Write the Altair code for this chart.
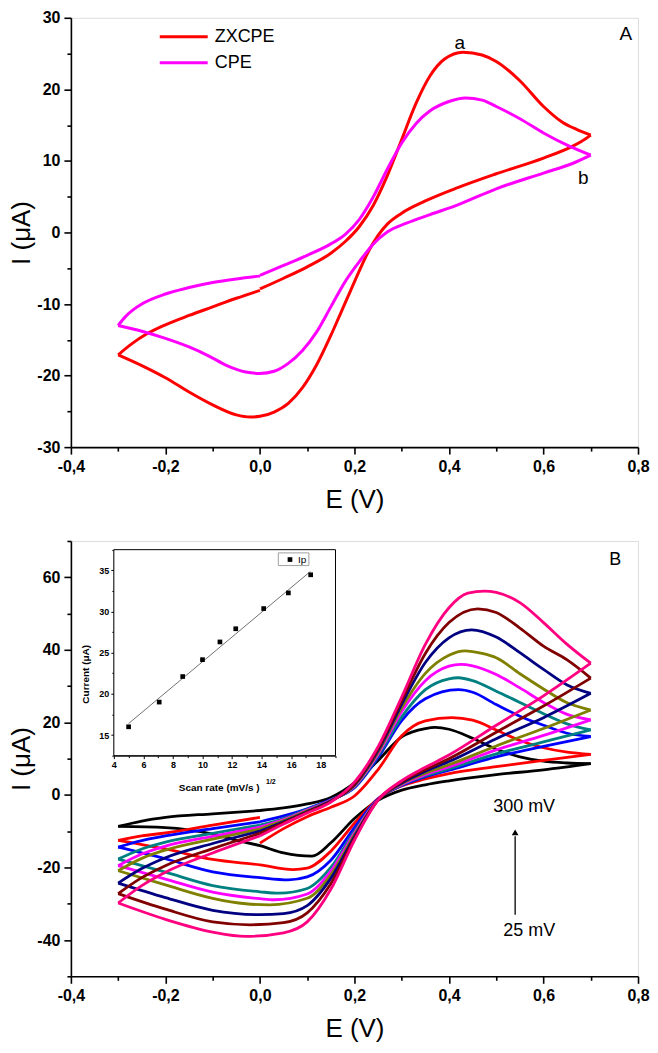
import altair as alt
import pandas as pd

FONT = "Liberation Sans"
MINUS = "\u2212"

# ---------------- Panel A : ZXCPE vs CPE ----------------
A_names = ["ZXCPE", "CPE"]
A_colors = ["#ff0000", "#ff00ff"]

ZX_fwd_E = [0.0, 0.05, 0.1, 0.15, 0.18, 0.21, 0.24, 0.27, 0.30, 0.33, 0.36, 0.39, 0.43, 0.47, 0.50, 0.55, 0.60, 0.64, 0.67, 0.70]
ZX_fwd_I = [-7.9, -6.4, -4.8, -2.9, -1.3, 0.8, 3.8, 8.0, 13.0, 18.0, 21.9, 24.2, 25.2, 24.8, 23.9, 21.2, 17.6, 15.4, 14.4, 13.6]
ZX_rev_E = [0.70, 0.68, 0.66, 0.60, 0.50, 0.42, 0.35, 0.30, 0.27, 0.25, 0.23, 0.21, 0.19, 0.17, 0.15, 0.12, 0.09, 0.06, 0.03, 0.0, -0.02, -0.05, -0.1, -0.15, -0.2, -0.25, -0.3]
ZX_rev_I = [13.6, 12.7, 12.0, 10.4, 8.2, 6.3, 4.4, 2.7, 1.2, -0.4, -2.6, -5.4, -8.4, -11.4, -14.4, -18.5, -21.7, -23.9, -25.1, -25.7, -25.8, -25.5, -24.1, -22.3, -20.3, -18.6, -17.1]
ZX_ret_E = [-0.3, -0.27, -0.24, -0.2, -0.15, -0.1, -0.05, 0.0]
ZX_ret_I = [-17.1, -15.5, -14.2, -12.9, -11.6, -10.4, -9.2, -8.1]

CPE_fwd_E = [0.0, 0.05, 0.1, 0.15, 0.18, 0.21, 0.24, 0.27, 0.30, 0.33, 0.36, 0.40, 0.435, 0.47, 0.50, 0.55, 0.60, 0.65, 0.70]
CPE_fwd_I = [-6.0, -4.6, -3.2, -1.6, -0.3, 1.8, 5.0, 8.9, 12.5, 15.2, 17.0, 18.3, 18.8, 18.5, 17.6, 15.9, 13.9, 12.2, 10.8]
CPE_rev_E = [0.70, 0.66, 0.60, 0.50, 0.42, 0.36, 0.31, 0.27, 0.24, 0.21, 0.18, 0.15, 0.12, 0.09, 0.06, 0.03, 0.0, -0.03, -0.07, -0.11, -0.15, -0.2, -0.25, -0.3]
CPE_rev_I = [10.8, 9.6, 8.3, 6.1, 3.9, 2.5, 1.3, 0.1, -1.6, -4.1, -6.9, -10.4, -13.9, -16.5, -18.3, -19.4, -19.7, -19.5, -18.6, -17.2, -16.0, -14.8, -13.8, -13.0]
CPE_ret_E = [-0.3, -0.285, -0.27, -0.25, -0.2, -0.15, -0.1, -0.05, 0.0]
CPE_ret_I = [-13.0, -11.8, -10.9, -10.0, -8.6, -7.7, -7.0, -6.5, -6.1]

A_labels = ["a", "b", "A"]
A_label_E = [0.423, 0.684, 0.774]
A_label_I = [26.5, 7.6, 27.8]

# ---------------- Panel B : scan rates ----------------
rates = [25, 50, 75, 100, 125, 150, 200, 250, 300]
rate_colors = ["#000000", "#ff0000", "#0000ff", "#008080", "#ff00ff", "#808000", "#000080", "#800000", "#ff0080"]

fwd_E = {
    25: [0, .05, .1, .15, .2, .25, .3, .35, .371, .4, .45, .5, .55, .6, .65, .7],
    50: [0, .05, .1, .15, .2, .25, .3, .35, .406, .45, .5, .55, .6, .65, .7],
    75: [0, .05, .1, .15, .2, .25, .3, .35, .42, .45, .5, .55, .6, .65, .7],
    100: [0, .05, .1, .15, .2, .25, .3, .35, .4, .42, .45, .5, .55, .6, .65, .7],
    125: [0, .05, .1, .15, .2, .25, .3, .35, .4, .425, .45, .5, .55, .6, .65, .7],
    150: [0, .05, .1, .15, .2, .25, .3, .35, .4, .434, .47, .5, .55, .6, .65, .7],
    200: [0, .05, .1, .15, .2, .25, .3, .35, .4, .448, .5, .55, .6, .65, .7],
    250: [0, .05, .1, .15, .2, .25, .3, .35, .4, .461, .5, .55, .6, .65, .7],
    300: [0, .05, .1, .15, .2, .25, .3, .35, .4, .44, .475, .5, .55, .6, .65, .7],
}
fwd_I = {
    25: [-4.3, -3.6, -2.5, -0.7, 3.3, 9.5, 16.0, 18.3, 18.6, 18.1, 15.6, 12.6, 10.5, 9.3, 8.8, 8.6],
    50: [-13.3, -9.3, -6.0, -3.4, -0.3, 7.0, 16.3, 20.4, 21.3, 20.6, 17.9, 15.0, 13.0, 11.8, 11.2],
    75: [-7.4, -5.8, -3.8, -1.3, 2.0, 10.3, 20.5, 26.5, 29.0, 28.3, 24.9, 21.7, 19.2, 17.0, 16.1],
    100: [-8.3, -6.5, -4.0, -1.4, 2.2, 10.8, 21.5, 29.0, 32.0, 32.3, 31.5, 28.6, 25.5, 22.4, 19.6, 17.9],
    125: [-8.9, -6.8, -4.2, -1.5, 2.4, 11.3, 23.0, 31.5, 35.5, 36.0, 35.6, 33.2, 29.5, 25.5, 22.2, 20.7],
    150: [-9.4, -7.1, -4.4, -1.6, 2.6, 11.8, 24.0, 33.5, 38.5, 39.7, 39.0, 37.8, 33.4, 29.2, 25.4, 23.4],
    200: [-10.0, -7.4, -4.6, -1.7, 2.8, 12.3, 25.0, 36.5, 43.3, 45.5, 43.5, 39.2, 34.6, 30.3, 28.0],
    250: [-10.6, -7.7, -4.8, -1.8, 3.0, 12.8, 26.0, 39.0, 47.5, 51.3, 50.3, 46.0, 41.0, 37.2, 32.2],
    300: [-11.3, -8.0, -5.0, -2.0, 3.5, 13.3, 27.0, 41.5, 51.6, 55.6, 56.2, 55.8, 53.0, 47.5, 41.5, 36.3],
}
rev_E = {
    25: [.7, .6, .5, .4, .35, .3, .25, .2, .15, .11, .05, 0, -.05, -.1, -.2, -.3],
    50: [.7, .6, .5, .4, .35, .3, .25, .2, .15, .1, .07, 0, -.1, -.2, -.3],
    75: [.7, .6, .5, .4, .35, .3, .25, .2, .15, .1, .06, 0, -.1, -.2, -.3],
    100: [.7, .6, .5, .4, .35, .3, .25, .2, .15, .1, .04, 0, -.1, -.2, -.3],
    125: [.7, .6, .5, .4, .35, .3, .25, .2, .15, .1, .03, 0, -.1, -.2, -.3],
    150: [.7, .6, .5, .4, .35, .3, .25, .2, .15, .1, .02, -.03, -.1, -.2, -.3],
    200: [.7, .6, .5, .4, .35, .3, .25, .2, .15, .1, .05, 0, -.1, -.2, -.3],
    250: [.7, .6, .5, .4, .35, .3, .25, .2, .15, .1, .05, -.02, -.1, -.2, -.3],
    300: [.7, .6, .5, .4, .35, .3, .25, .2, .15, .1, .05, -.03, -.1, -.2, -.3],
}
rev_I = {
    25: [8.6, 6.9, 5.6, 3.9, 2.8, 1.3, -1.5, -6.5, -13.2, -16.9, -16.0, -14.0, -12.5, -10.8, -9.0, -8.7],
    50: [11.2, 9.5, 7.8, 5.9, 4.4, 2.5, -1.0, -7.8, -15.5, -20.2, -20.6, -19.3, -17.8, -14.9, -12.5],
    75: [16.1, 13.4, 10.5, 6.8, 5.0, 2.6, -1.1, -9.0, -18.0, -22.6, -23.4, -22.8, -21.2, -17.6, -14.4],
    100: [17.9, 14.6, 11.3, 7.2, 5.3, 2.8, -1.2, -10.0, -20.0, -25.8, -27.1, -26.7, -25.0, -21.3, -17.7],
    125: [20.7, 16.4, 12.4, 7.7, 5.6, 2.9, -1.2, -10.5, -21.0, -27.3, -28.9, -28.6, -26.8, -23.2, -19.5],
    150: [23.4, 18.3, 13.5, 8.3, 6.0, 3.1, -1.3, -11.0, -22.0, -28.5, -30.3, -30.0, -28.5, -24.8, -20.9],
    200: [28.0, 21.3, 15.5, 9.2, 6.5, 3.3, -1.3, -11.5, -23.0, -30.5, -32.7, -33.0, -31.8, -28.3, -24.3],
    250: [32.2, 24.5, 17.3, 10.0, 7.0, 3.6, -1.4, -12.0, -24.5, -32.5, -35.2, -35.8, -35.0, -31.5, -27.2],
    300: [36.3, 27.3, 19.2, 11.0, 7.6, 3.9, -1.4, -12.5, -26.0, -35.0, -38.0, -39.0, -37.8, -34.3, -29.8],
}
ret_E = [-0.3, -0.25, -0.2, -0.1, 0.0]
ret_I = {
    25: [-8.7, -7.2, -6.2, -5.2, -4.3],
    50: [-12.5, -11.3, -10.5, -8.3, -6.2],
    75: [-14.4, -12.6, -11.3, -9.3, -7.4],
    100: [-17.7, -14.9, -13.0, -10.6, -8.3],
    125: [-19.5, -16.3, -14.1, -11.4, -8.9],
    150: [-20.9, -17.5, -15.2, -12.2, -9.4],
    200: [-24.3, -20.3, -17.3, -13.4, -10.0],
    250: [-27.2, -22.8, -19.5, -14.8, -10.6],
    300: [-29.8, -25.0, -21.3, -16.0, -11.3],
}

B_labels = ["B", "300 mV", "25 mV"]
B_label_E = [0.752, 0.559, 0.57]
B_label_I = [64.7, -3.2, -37.6]
arrow_E = [0.54, 0.54]
arrow_I = [-33.0, -11.4]
arrow_head_E = [0.54]
arrow_head_I = [-10.3]

# inset: peak current vs sqrt(scan rate)
inset_x = [5.0, 7.07, 8.66, 10.0, 11.18, 12.25, 14.14, 15.81, 17.32]
inset_y = [16.0, 19.0, 22.1, 24.15, 26.3, 27.9, 30.35, 32.25, 34.45]
fit_x = [5.0, 17.3]
fit_y = [16.4, 34.85]
inset_legend_label = ["Ip"]
inset_legend_x = [15.92]
inset_legend_y = [36.3]
inset_legend_box = [15.13, 17.2, 35.57, 37.11]
inset_frame = [4, 19, 12.5, 37.5]

# ---------------- tables ----------------
rowsA = []
for name, segs in [("ZXCPE", [(ZX_fwd_E, ZX_fwd_I), (ZX_rev_E, ZX_rev_I), (ZX_ret_E, ZX_ret_I)]),
                   ("CPE", [(CPE_fwd_E, CPE_fwd_I), (CPE_rev_E, CPE_rev_I), (CPE_ret_E, CPE_ret_I)])]:
    for s, (Es, Is) in enumerate(segs):
        for k, (e, i) in enumerate(zip(Es, Is)):
            rowsA.append({"series": name, "seg": f"{name}-{s}", "k": k, "E": e, "I": i})
dfA = pd.DataFrame(rowsA)

rowsB = []
for r in rates:
    for s, (Es, Is) in enumerate([(fwd_E[r], fwd_I[r]), (rev_E[r], rev_I[r]), (ret_E, ret_I[r])]):
        for k, (e, i) in enumerate(zip(Es, Is)):
            rowsB.append({"rate": str(r), "seg": f"{r}-{s}", "k": k, "E": e, "I": i})
dfB = pd.DataFrame(rowsB)

dfA_lab = pd.DataFrame({"t": A_labels, "E": A_label_E, "I": A_label_I})
dfB_lab = pd.DataFrame({"t": B_labels, "E": B_label_E, "I": B_label_I})
df_arrow = pd.DataFrame({"E": arrow_E, "I": arrow_I})
df_head = pd.DataFrame({"E": arrow_head_E, "I": arrow_head_I})
df_in = pd.DataFrame({"x": inset_x, "y": inset_y})
df_fit = pd.DataFrame({"x": fit_x, "y": fit_y})
df_leg = pd.DataFrame({"t": inset_legend_label, "x": inset_legend_x, "y": inset_legend_y})
df_box = pd.DataFrame({"x": [inset_legend_box[0]], "x2": [inset_legend_box[1]],
                       "y": [inset_legend_box[2]], "y2": [inset_legend_box[3]]})
df_frame = pd.DataFrame({"x": [inset_frame[0]], "x2": [inset_frame[1]],
                         "y": [inset_frame[2]], "y2": [inset_frame[3]]})
df_sup = pd.DataFrame({"t": ["1/2"], "x": [14.3], "y": [9.35]})

# ---------------- axes ----------------
W = 568
HA = 430
HB = 436

X_LABEL = "replace(replace(format(datum.value, '.1f'), '.', ','), '" + MINUS + "', '-')"
Y_LABEL = "replace(format(datum.value, 'd'), '" + MINUS + "', '-')"

common = dict(grid=False, tickColor="black", domainColor="black", domainWidth=1.6, tickWidth=1.6,
              labelFont=FONT, labelFontWeight="bold", labelFontSize=16, labelColor="black",
              titleFont=FONT, titleFontWeight="normal", titleFontSize=26, titleColor="black",
              labelOverlap=False, labelFlush=False)

def x_major():
    return alt.Axis(orient="bottom", values=[-0.4, -0.2, 0.0, 0.2, 0.4, 0.6, 0.8], labelExpr=X_LABEL,
                    title="E (V)", tickSize=7, labelPadding=4, titlePadding=12, **common)

def x_minor():
    return alt.Axis(orient="bottom", values=[-0.3, -0.1, 0.1, 0.3, 0.5, 0.7], labels=False, domain=False,
                    title=None, tickSize=4, grid=False, tickColor="black", tickWidth=1.6)

def y_major(vals):
    return alt.Axis(orient="left", values=vals, labelExpr=Y_LABEL, title="I (\u03bcA)", tickSize=7,
                    labelPadding=4, titlePadding=2, **common)

def y_minor(vals):
    return alt.Axis(orient="left", values=vals, labels=False, domain=False, title=None, tickSize=4,
                    grid=False, tickColor="black", tickWidth=1.6)

def xs():
    return alt.Scale(domain=[-0.4, 0.8], nice=False, zero=False)

def ysA():
    return alt.Scale(domain=[-30, 30], nice=False, zero=False)

def ysB():
    return alt.Scale(domain=[-50, 70], nice=False, zero=False)

# ---------------- Panel A ----------------
curvesA = alt.Chart(dfA).mark_line(strokeWidth=3, interpolate="monotone").encode(
    x=alt.X("E:Q", scale=xs(), axis=x_major()),
    y=alt.Y("I:Q", scale=ysA(), axis=y_major([-30, -20, -10, 0, 10, 20, 30])),
    color=alt.Color("series:N", scale=alt.Scale(domain=A_names, range=A_colors),
                    legend=alt.Legend(orient="none", legendX=104, legendY=10, title=None,
                                      symbolType="M-4,0L4,0", symbolSize=144, symbolStrokeWidth=3,
                                      labelFont=FONT, labelFontSize=18, labelColor="black",
                                      labelOffset=22, rowPadding=8, padding=0)),
    detail="seg:N",
    order="k:Q",
)
minorA = alt.Chart(dfA).mark_line(opacity=0).encode(
    x=alt.X("E:Q", scale=xs(), axis=x_minor()),
    y=alt.Y("I:Q", scale=ysA(), axis=y_minor([-25, -15, -5, 5, 15, 25])),
    detail="seg:N",
)
textA = alt.Chart(dfA_lab).mark_text(font=FONT, fontSize=19, color="black").encode(
    x=alt.X("E:Q", scale=xs(), axis=None),
    y=alt.Y("I:Q", scale=ysA(), axis=None),
    text="t:N",
)
panelA = alt.layer(curvesA, minorA, textA).resolve_scale(x="independent", y="independent") \
    .properties(width=W, height=HA)

# ---------------- Panel B ----------------
curvesB = alt.Chart(dfB).mark_line(strokeWidth=2.8, interpolate="monotone").encode(
    x=alt.X("E:Q", scale=xs(), axis=x_major()),
    y=alt.Y("I:Q", scale=ysB(), axis=y_major([-40, -20, 0, 20, 40, 60])),
    color=alt.Color("rate:N", scale=alt.Scale(domain=[str(r) for r in rates], range=rate_colors), legend=None),
    detail="seg:N",
    order="k:Q",
)
minorB = alt.Chart(dfB).mark_line(opacity=0).encode(
    x=alt.X("E:Q", scale=xs(), axis=x_minor()),
    y=alt.Y("I:Q", scale=ysB(), axis=y_minor([-50, -30, -10, 10, 30, 50, 70])),
    detail="seg:N",
)
textB = alt.Chart(dfB_lab).mark_text(font=FONT, fontSize=18, color="black").encode(
    x=alt.X("E:Q", scale=xs(), axis=None),
    y=alt.Y("I:Q", scale=ysB(), axis=None),
    text="t:N",
)
arrowB = alt.Chart(df_arrow).mark_line(color="black", strokeWidth=1.3).encode(
    x=alt.X("E:Q", scale=xs(), axis=None),
    y=alt.Y("I:Q", scale=ysB(), axis=None),
)
headB = alt.Chart(df_head).mark_point(shape="triangle-up", filled=True, color="black", size=45, opacity=1).encode(
    x=alt.X("E:Q", scale=xs(), axis=None),
    y=alt.Y("I:Q", scale=ysB(), axis=None),
)

XI_RANGE = [43, 265]
YI_RANGE = [215, 8.7]

def xi():
    return alt.Scale(domain=[4, 19], range=XI_RANGE, nice=False, zero=False)

def yi():
    return alt.Scale(domain=[12.5, 37.5], range=YI_RANGE, nice=False, zero=False)

in_common = dict(grid=False, tickColor="black", domainColor="black", domainWidth=1, tickWidth=1,
                 labelFont=FONT, labelFontWeight="bold", labelFontSize=9, labelColor="black",
                 titleFont=FONT, titleFontWeight="bold", titleFontSize=10, titleColor="black",
                 labelOverlap=False, labelFlush=False)

frameI = alt.Chart(df_frame).mark_rect(fill="white", stroke="black", strokeWidth=1).encode(
    x=alt.X("x:Q", scale=xi(), axis=None), x2="x2:Q",
    y=alt.Y("y:Q", scale=yi(), axis=None), y2="y2:Q",
)
fitI = alt.Chart(df_fit).mark_line(color="#707070", strokeWidth=1).encode(
    x=alt.X("x:Q", scale=xi(), axis=alt.Axis(orient="bottom", offset=YI_RANGE[0] - HB,
                                             values=[5, 7, 9, 11, 13, 15, 17, 19], labels=False,
                                             domain=False, title=None, tickSize=2, grid=False,
                                             tickColor="black", tickWidth=1)),
    y=alt.Y("y:Q", scale=yi(), axis=alt.Axis(orient="left", offset=-XI_RANGE[0],
                                             values=[12.5, 17.5, 22.5, 27.5, 32.5, 37.5], labels=False,
                                             domain=False, title=None, tickSize=2, grid=False,
                                             tickColor="black", tickWidth=1)),
)
ptsI = alt.Chart(df_in).mark_square(color="black", size=22, opacity=1).encode(
    x=alt.X("x:Q", scale=xi(), axis=alt.Axis(orient="bottom", offset=YI_RANGE[0] - HB,
                                             values=[4, 6, 8, 10, 12, 14, 16, 18],
                                             title="Scan rate (mV/s )", tickSize=3, labelPadding=2,
                                             titlePadding=13, titleX=148, **in_common)),
    y=alt.Y("y:Q", scale=yi(), axis=alt.Axis(orient="left", offset=-XI_RANGE[0],
                                             values=[15, 20, 25, 30, 35], title="Current (\u03bcA)",
                                             tickSize=3, labelPadding=2, titlePadding=8, titleY=133,
                                             **in_common)),
)
boxI = alt.Chart(df_box).mark_rect(fill="white", stroke="#a0a0a0", strokeWidth=1).encode(
    x=alt.X("x:Q", scale=xi(), axis=None), x2="x2:Q",
    y=alt.Y("y:Q", scale=yi(), axis=None), y2="y2:Q",
)
legPtI = alt.Chart(df_leg).mark_square(color="black", size=22, opacity=1).encode(
    x=alt.X("x:Q", scale=xi(), axis=None),
    y=alt.Y("y:Q", scale=yi(), axis=None),
)
legTxtI = alt.Chart(df_leg).mark_text(font=FONT, fontSize=10, color="black", align="left", dx=8).encode(
    x=alt.X("x:Q", scale=xi(), axis=None),
    y=alt.Y("y:Q", scale=yi(), axis=None),
    text="t:N",
)
supI = alt.Chart(df_sup).mark_text(font=FONT, fontSize=7, fontWeight="bold", color="black", align="left").encode(
    x=alt.X("x:Q", scale=xi(), axis=None),
    y=alt.Y("y:Q", scale=yi(), axis=None),
    text="t:N",
)

panelB = alt.layer(curvesB, minorB, textB, arrowB, headB, frameI, fitI, ptsI, boxI, legPtI, legTxtI, supI) \
    .resolve_scale(x="independent", y="independent") \
    .properties(width=W, height=HB)

chart = alt.vconcat(panelA, panelB, spacing=26).resolve_scale(color="independent").properties(
    padding={"left": 0, "top": 0, "right": 0, "bottom": 0}
).configure_view(stroke="black", strokeWidth=1.6).configure(background="white")

chart.save("out.html", embed_options={"renderer": "svg", "actions": False})
